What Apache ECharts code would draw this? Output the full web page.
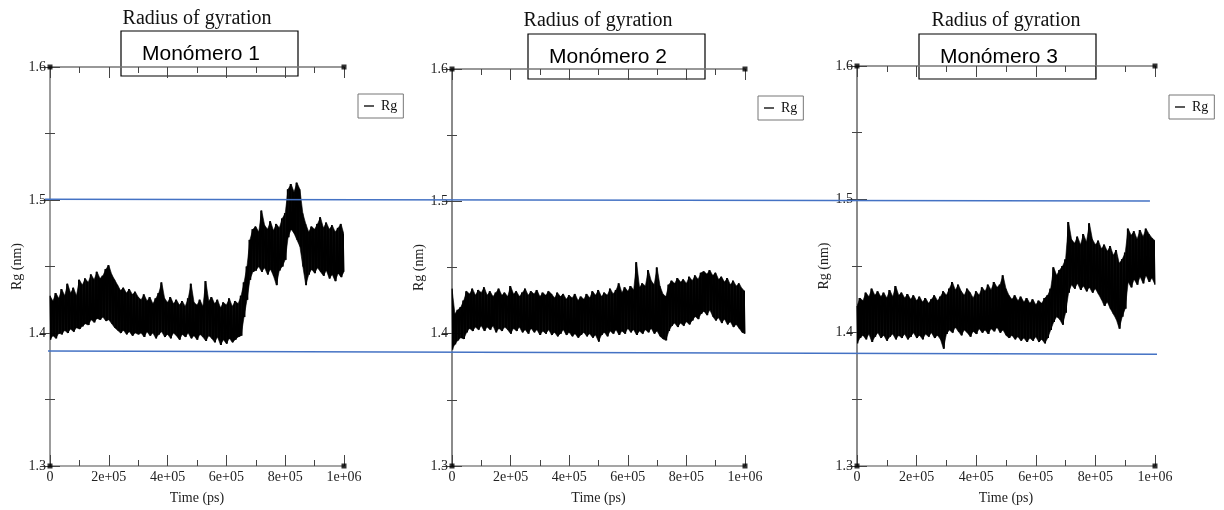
<!DOCTYPE html>
<html><head><meta charset="utf-8">
<script src="https://cdn.jsdelivr.net/npm/echarts@6/dist/echarts.min.js"></script>
<style>html,body{margin:0;padding:0;background:#fff}#c{width:1224px;height:510px}</style>
</head><body><div id="c"></div>
<script>
// ---------- data ----------
const panelTitle = 'Radius of gyration';
const monomerLabels = ['Monómero 1', 'Monómero 2', 'Monómero 3'];
const seriesName = 'Rg';
const xAxisName = 'Time (ps)';
const yAxisName = 'Rg (nm)';
const xTickLabels = ['0', '2e+05', '4e+05', '6e+05', '8e+05', '1e+06'];
const yTickLabels = ['1.3', '1.4', '1.5', '1.6'];
const sampleStepPs = 10000; // values read every 1e4 ps (upper / lower envelope of the noisy trace)

const m1Hi = [1.428,1.424,1.430,1.426,1.433,1.428,1.437,1.430,1.434,1.428,1.440,
  1.436,1.441,1.438,1.444,1.440,1.446,1.441,1.443,1.448,1.451,
  1.444,1.440,1.436,1.432,1.434,1.430,1.433,1.429,1.431,1.427,
  1.425,1.429,1.424,1.427,1.422,1.426,1.430,1.438,1.426,1.423,
  1.427,1.422,1.425,1.421,1.424,1.420,1.426,1.437,1.423,1.421,
  1.425,1.420,1.439,1.424,1.427,1.422,1.425,1.419,1.423,1.421,
  1.426,1.420,1.424,1.422,1.428,1.438,1.450,1.470,1.478,1.480,
  1.476,1.492,1.481,1.478,1.484,1.477,1.482,1.479,1.486,1.490,
  1.508,1.512,1.506,1.513,1.508,1.490,1.482,1.476,1.480,1.478,
  1.482,1.487,1.479,1.483,1.478,1.481,1.476,1.479,1.482,1.474];
const m1Lo = [1.395,1.398,1.396,1.400,1.399,1.402,1.400,1.403,1.401,1.404,1.403,
  1.405,1.407,1.406,1.410,1.408,1.411,1.410,1.412,1.409,1.410,
  1.407,1.404,1.402,1.400,1.402,1.399,1.401,1.398,1.400,1.399,
  1.400,1.397,1.401,1.398,1.400,1.396,1.399,1.401,1.397,1.399,
  1.396,1.400,1.398,1.395,1.399,1.397,1.400,1.396,1.398,1.395,
  1.399,1.397,1.394,1.398,1.396,1.393,1.397,1.391,1.395,1.392,
  1.396,1.393,1.395,1.397,1.398,1.412,1.425,1.440,1.446,1.447,
  1.450,1.446,1.449,1.444,1.448,1.443,1.436,1.447,1.450,1.455,
  1.472,1.478,1.475,1.470,1.465,1.450,1.436,1.444,1.448,1.445,
  1.449,1.446,1.443,1.447,1.441,1.444,1.439,1.445,1.442,1.446];

const m2Hi = [1.434,1.415,1.418,1.420,1.425,1.432,1.430,1.434,1.429,1.433,1.431,
  1.435,1.429,1.432,1.428,1.431,1.434,1.429,1.431,1.428,1.436,
  1.430,1.432,1.428,1.431,1.434,1.429,1.432,1.430,1.433,1.428,
  1.431,1.429,1.432,1.430,1.427,1.431,1.428,1.430,1.426,1.429,
  1.427,1.430,1.425,1.428,1.426,1.430,1.427,1.432,1.429,1.433,
  1.428,1.431,1.429,1.434,1.430,1.433,1.438,1.431,1.435,1.432,
  1.436,1.433,1.454,1.435,1.438,1.436,1.448,1.440,1.437,1.450,
  1.436,1.430,1.428,1.437,1.440,1.438,1.442,1.439,1.441,1.438,
  1.443,1.440,1.444,1.441,1.446,1.447,1.445,1.448,1.444,1.446,
  1.441,1.443,1.439,1.442,1.437,1.440,1.436,1.438,1.434,1.432];
const m2Lo = [1.388,1.392,1.395,1.397,1.396,1.401,1.404,1.402,1.405,1.403,1.406,
  1.402,1.405,1.403,1.406,1.401,1.404,1.402,1.405,1.403,1.400,
  1.404,1.402,1.405,1.401,1.403,1.400,1.404,1.401,1.403,1.399,
  1.402,1.400,1.403,1.399,1.401,1.398,1.400,1.403,1.399,1.401,
  1.398,1.400,1.397,1.399,1.401,1.398,1.400,1.397,1.399,1.394,
  1.399,1.401,1.398,1.402,1.400,1.403,1.399,1.402,1.400,1.404,
  1.401,1.403,1.399,1.402,1.400,1.403,1.401,1.404,1.400,1.402,
  1.398,1.396,1.395,1.402,1.406,1.408,1.405,1.408,1.406,1.409,
  1.407,1.410,1.413,1.411,1.415,1.417,1.414,1.418,1.413,1.410,
  1.412,1.408,1.411,1.407,1.409,1.405,1.407,1.404,1.401,1.400];

const m3Hi = [1.420,1.426,1.424,1.430,1.427,1.433,1.428,1.431,1.427,1.430,1.426,
  1.432,1.427,1.435,1.428,1.430,1.426,1.429,1.425,1.428,1.424,
  1.427,1.423,1.426,1.422,1.425,1.428,1.424,1.427,1.431,1.428,
  1.433,1.438,1.432,1.436,1.431,1.428,1.433,1.430,1.426,1.431,
  1.428,1.434,1.431,1.436,1.432,1.438,1.434,1.436,1.443,1.433,
  1.428,1.425,1.428,1.424,1.427,1.423,1.426,1.422,1.425,1.421,
  1.424,1.422,1.426,1.428,1.433,1.449,1.443,1.447,1.450,1.455,
  1.483,1.470,1.467,1.472,1.466,1.474,1.468,1.482,1.470,1.466,
  1.469,1.463,1.466,1.461,1.465,1.458,1.462,1.452,1.455,1.460,
  1.478,1.473,1.476,1.470,1.477,1.472,1.478,1.474,1.471,1.469];
const m3Lo = [1.392,1.396,1.398,1.395,1.399,1.393,1.397,1.400,1.396,1.398,1.394,
  1.397,1.399,1.395,1.398,1.396,1.399,1.395,1.397,1.400,1.396,
  1.398,1.395,1.399,1.397,1.400,1.396,1.398,1.395,1.388,1.399,
  1.402,1.400,1.404,1.401,1.398,1.402,1.400,1.397,1.401,1.399,
  1.403,1.400,1.402,1.399,1.403,1.401,1.404,1.400,1.402,1.398,
  1.396,1.398,1.395,1.397,1.394,1.396,1.393,1.396,1.394,1.397,
  1.393,1.395,1.392,1.396,1.402,1.408,1.412,1.410,1.406,1.415,
  1.430,1.436,1.433,1.437,1.432,1.435,1.431,1.434,1.430,1.433,
  1.429,1.425,1.420,1.423,1.418,1.414,1.410,1.403,1.412,1.418,
  1.438,1.434,1.440,1.436,1.442,1.437,1.443,1.438,1.441,1.436];

const frameCorners = [[0, 1.3], [1e6, 1.3], [0, 1.6], [1e6, 1.6]];
// hand-drawn blue guide lines: [panel, time, Rg] at each end
const guideLines = [
  [[0, -17000, 1.5005], [2, 983000, 1.4987]],
  [[0, -6800, 1.3865], [2, 1006700, 1.3839]]
];

// ---------- layout ----------
const his = [m1Hi, m2Hi, m3Hi], los = [m1Lo, m2Lo, m3Lo];
const grids = [
  {left: 50, top: 67, width: 294, height: 399},
  {left: 452, top: 69, width: 293, height: 399},
  {left: 857, top: 66, width: 298, height: 405}
];
const legendPos = [[358, 94], [758, 96], [1169, 95]];
const titleCenters = [[197, 19], [598, 21], [1006, 21]];
const boxPos = [[121, 31], [528, 34], [919, 34]];
const leftAxisColor = ['#888', '#333', '#333'];
const serif = '"Liberation Serif", "Times New Roman", serif';

function zigzag(p) {
  const out = [];
  const hi = his[p], lo = los[p];
  for (let i = 0; i < hi.length; i++) {
    const t = i * sampleStepPs;
    out.push([Math.max(0, t - sampleStepPs / 4), hi[i]]);
    out.push([Math.min(1e6, t + sampleStepPs / 4), lo[i]]);
  }
  return out;
}
function bandItems(p) {
  const hi = his[p], lo = los[p], out = [];
  for (let i = 0; i + 1 < hi.length; i++) {
    out.push([i * sampleStepPs, (i + 1) * sampleStepPs, lo[i], hi[i], lo[i + 1], hi[i + 1]]);
  }
  return out;
}
function renderBand(params, api) {
  const a1 = api.coord([api.value(0), api.value(3)]);
  const b1 = api.coord([api.value(1), api.value(5)]);
  const b0 = api.coord([api.value(1), api.value(4)]);
  const a0 = api.coord([api.value(0), api.value(2)]);
  return {type: 'polygon', shape: {points: [a1, b1, b0, a0]},
    style: {fill: '#000', stroke: '#000', lineWidth: 0.6}};
}

const xAxis = [], yAxis = [], series = [], legend = [];
const noSplit = {splitLine: {show: false}, minorSplitLine: {show: false}};
function tick(len) { return {show: true, inside: true, length: len, lineStyle: {color: '#444', width: 1}}; }
for (let p = 0; p < 3; p++) {
  // major axes (with lines / labels)
  xAxis.push(Object.assign({
    gridIndex: p, type: 'value', min: 0, max: 1e6, interval: 2e5, position: 'bottom',
    axisLine: {lineStyle: {color: '#888', width: 1.5}}, axisTick: tick(11),
    axisLabel: {fontFamily: serif, fontSize: 14, color: '#222', margin: 4,
      showMinLabel: true, showMaxLabel: true,
      formatter: v => xTickLabels[Math.round(v / 2e5)]},
    name: xAxisName, nameLocation: 'middle', nameGap: 25,
    nameTextStyle: {fontFamily: serif, fontSize: 14, color: '#222'}
  }, noSplit));
  xAxis.push(Object.assign({
    gridIndex: p, type: 'value', min: 0, max: 1e6, interval: 2e5, position: 'top',
    axisLine: {lineStyle: {color: '#777', width: 1.5}}, axisTick: tick(11), axisLabel: {show: false}
  }, noSplit));
  // minor-tick axes
  xAxis.push(Object.assign({
    gridIndex: p, type: 'value', min: 0, max: 1e6, interval: 1e5, position: 'bottom',
    axisLine: {show: false}, axisTick: tick(6), axisLabel: {show: false}
  }, noSplit));
  xAxis.push(Object.assign({
    gridIndex: p, type: 'value', min: 0, max: 1e6, interval: 1e5, position: 'top',
    axisLine: {show: false}, axisTick: tick(6), axisLabel: {show: false}
  }, noSplit));

  yAxis.push(Object.assign({
    gridIndex: p, type: 'value', min: 1.3, max: 1.6, interval: 0.1, position: 'left',
    axisLine: {lineStyle: {color: leftAxisColor[p], width: 1.5}}, axisTick: tick(10),
    axisLabel: {fontFamily: serif, fontSize: 14, color: '#222', margin: 4,
      formatter: v => yTickLabels[Math.round((v - 1.3) / 0.1)]},
    name: yAxisName, nameLocation: 'middle', nameGap: 26, nameRotate: 90,
    nameTextStyle: {fontFamily: serif, fontSize: 14, color: '#222'}
  }, noSplit));
  yAxis.push(Object.assign({
    gridIndex: p, type: 'value', min: 1.3, max: 1.6, interval: 0.1, position: 'right',
    axisLine: {lineStyle: {color: '#999', width: 1.5}}, axisTick: tick(10), axisLabel: {show: false}
  }, noSplit));
  yAxis.push(Object.assign({
    gridIndex: p, type: 'value', min: 1.3, max: 1.6, interval: 0.05, position: 'left',
    axisLine: {show: false}, axisTick: tick(5), axisLabel: {show: false}
  }, noSplit));
  yAxis.push(Object.assign({
    gridIndex: p, type: 'value', min: 1.3, max: 1.6, interval: 0.05, position: 'right',
    axisLine: {show: false}, axisTick: tick(5), axisLabel: {show: false}
  }, noSplit));

  const xi = p * 4, yi = p * 4;
  series.push({
    name: 'band' + p, type: 'custom', xAxisIndex: xi, yAxisIndex: yi,
    data: bandItems(p), renderItem: renderBand, encode: {x: [0, 1], y: [2, 3, 4, 5]},
    animation: false, silent: true, clip: true, z: 2
  });
  series.push({
    name: seriesName, type: 'line', xAxisIndex: xi, yAxisIndex: yi,
    data: zigzag(p), showSymbol: false, symbol: 'none',
    lineStyle: {color: '#000', width: 1}, itemStyle: {color: '#000'},
    animation: false, silent: true, clip: true, z: 3
  });
  series.push({
    name: 'corners', type: 'scatter', xAxisIndex: xi, yAxisIndex: yi,
    data: frameCorners, symbol: 'rect', symbolSize: 5,
    itemStyle: {color: '#000'}, animation: false, silent: true, clip: false, z: 5
  });
  legend.push({
    data: [seriesName], left: legendPos[p][0], top: legendPos[p][1], orient: 'vertical',
    icon: 'rect', itemWidth: 10, itemHeight: 1.3, itemGap: 4, selectedMode: false,
    borderColor: '#777', borderWidth: 1, borderRadius: 0, padding: [5, 6, 5, 6],
    backgroundColor: '#fff',
    textStyle: {fontFamily: serif, fontSize: 14, color: '#111', padding: [0, 0, 0, 2]}
  });
}

const graphic = [];
for (let p = 0; p < 3; p++) {
  graphic.push({
    type: 'text', x: titleCenters[p][0], y: titleCenters[p][1], z: 10,
    style: {text: panelTitle, font: '20px ' + serif, fill: '#111', align: 'center', verticalAlign: 'middle'}
  });
  graphic.push({
    type: 'group', x: boxPos[p][0], y: boxPos[p][1], z: 10,
    children: [
      {type: 'rect', shape: {x: 0, y: 0, width: 177, height: 45},
        style: {fill: '#fff', stroke: '#000', lineWidth: 1.2}},
      {type: 'text', x: 21, y: 23,
        style: {text: monomerLabels[p], font: '21px "Liberation Sans", Arial, sans-serif', fill: '#000', verticalAlign: 'middle'}}
    ]
  });
}

const chart = echarts.init(document.getElementById('c'), null, {renderer: 'canvas'});
chart.setOption({
  backgroundColor: '#fff', animation: false,
  grid: grids, xAxis, yAxis, series, legend, graphic
});

// blue guide lines placed through the panels' own scales
const lineGraphics = guideLines.map(([a, b]) => {
  const pa = chart.convertToPixel({xAxisIndex: a[0] * 4, yAxisIndex: a[0] * 4}, [a[1], a[2]]);
  const pb = chart.convertToPixel({xAxisIndex: b[0] * 4, yAxisIndex: b[0] * 4}, [b[1], b[2]]);
  return {type: 'line', z: 20, shape: {x1: pa[0], y1: pa[1], x2: pb[0], y2: pb[1]},
    style: {stroke: '#4472C4', lineWidth: 1.5}};
});
chart.setOption({graphic: graphic.concat(lineGraphics)});
</script></body></html>
